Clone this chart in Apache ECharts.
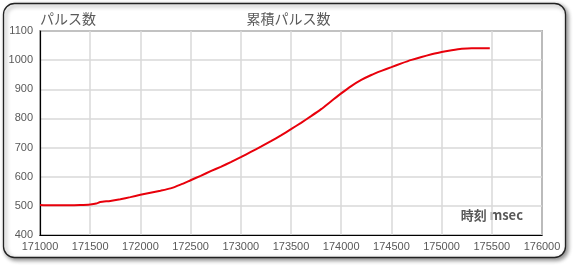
<!DOCTYPE html>
<html><head><meta charset="utf-8">
<script src="https://cdn.jsdelivr.net/npm/echarts@6/dist/echarts.min.js"></script>
<style>html,body{margin:0;padding:0;background:#fff}#c{width:577px;height:268px}</style>
</head><body><div id="c"></div>
<script>
var timeMs = [171000,171100,171200,171300,171400,171500,171560,171600,171700,171800,171900,172000,172100,172200,172300,172400,172500,172600,172700,172800,172900,173000,173100,173200,173300,173400,173500,173600,173700,173800,173900,174000,174100,174200,174300,174400,174500,174600,174700,174800,174900,175000,175100,175200,175300,175400,175480];
var pulses = [503,502,502,502,503,505,508,513,517,523,530,538,545,552,560,573,588,603,619,634,650,667,685,703,722,742,763,785,808,832,859,886,911,932,949,963,976,989,1001,1011,1020,1028,1034,1039,1041,1041,1041];
var yTitle = 'パルス数';
var chartTitle = '累積パルス数';
var xTitle = '時刻 msec';

var data = timeMs.map(function(t,i){return [t,pulses[i]];});
var chart = echarts.init(document.getElementById('c'));
var jp = '"Noto Sans CJK JP", sans-serif';
var num = '"Liberation Sans", sans-serif';
chart.setOption({
  animation:false,
  backgroundColor:'#fff',
  graphic:[
    {type:'rect', z:-10, shape:{x:3.5,y:3.5,width:562,height:254,r:11},
     style:{fill:'#fff',stroke:'#222',lineWidth:1.3,shadowBlur:4,shadowOffsetX:2,shadowOffsetY:2,shadowColor:'rgba(0,0,0,0.45)'}},
    {type:'text', left:40, top:12, style:{text:yTitle, font:'14px '+jp, fill:'#595959'}},
    {type:'text', left:'center', top:12, style:{text:chartTitle, font:'14px '+jp, fill:'#595959'}},
    {type:'text', right:54, top:209, style:{text:xTitle, font:'bold 13px '+jp, fill:'#595959'}}
  ],
  grid:{left:40,right:35,top:31,bottom:33,show:true,borderColor:'#000',borderWidth:1.2},
  xAxis:{type:'value',min:171000,max:176000,interval:500,
    axisLine:{show:true,lineStyle:{color:'#000',width:1.2}},axisTick:{show:false},
    axisLabel:{color:'#595959',fontSize:11,fontFamily:num,margin:6,formatter:function(v){return String(v);}},
    splitLine:{show:true,lineStyle:{color:'#d9d9d9',width:1.5}}},
  yAxis:{type:'value',min:400,max:1100,interval:100,
    axisLine:{show:true,lineStyle:{color:'#000',width:1.2}},axisTick:{show:false},
    axisLabel:{color:'#595959',fontSize:11,fontFamily:num,margin:7,formatter:function(v){return String(v);}},
    splitLine:{show:true,lineStyle:{color:'#d9d9d9',width:1.5}}},
  series:[{type:'line',data:data,showSymbol:false,smooth:0.2,
    lineStyle:{color:'#e8000b',width:2},itemStyle:{color:'#e8000b'}}]
});
</script></body></html>
